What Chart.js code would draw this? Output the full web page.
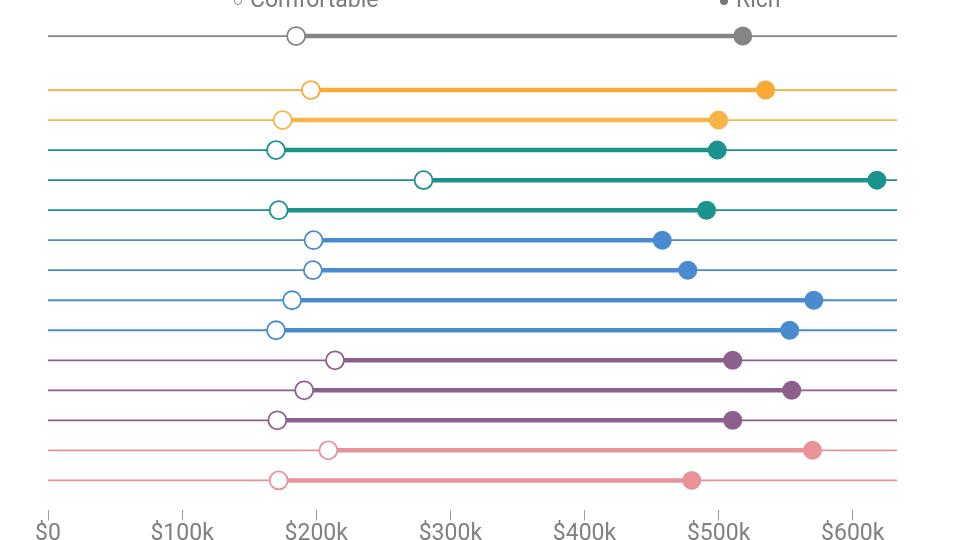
<!DOCTYPE html>
<html>
<head>
<meta charset="utf-8">
<script src="https://cdn.jsdelivr.net/npm/chart.js@4/dist/chart.umd.min.js"></script>
<style>
  html, body { margin: 0; padding: 0; background: #fff; overflow: hidden; width: 960px; height: 540px; }
  #wrap { position: absolute; left: 0; top: 0; width: 960px; height: 548px; }
  .leg { position: absolute; top: -10px; font-family: Roboto, "Noto Sans", sans-serif; font-size: 23px; line-height: 20px; color: #7a7a7a; white-space: nowrap; }
  .leg .dot { display: inline-block; width: 8px; height: 8px; border-radius: 50%; margin-right: 8px; vertical-align: middle; box-sizing: border-box; }
</style>
</head>
<body>
<div id="wrap"><canvas id="c"></canvas></div>
<div class="leg" style="left:234px"><span class="dot" style="border:1.5px solid #888;background:#fff"></span>Comfortable</div>
<div class="leg" style="left:720px"><span class="dot" style="background:#777"></span>Rich</div>
<script>
// ---- data ----
const categories = ['Overall', 'Group 1', 'Group 2', 'Group 3', 'Group 4', 'Group 5', 'Group 6', 'Group 7',
                    'Group 8', 'Group 9', 'Group 10', 'Group 11', 'Group 12', 'Group 13', 'Group 14'];
const comfortable = [185000, 196000, 175000, 170000, 280000, 172000, 198000, 197500, 182000, 170000, 214000, 191000, 171000, 209000, 172000];
const rich        = [518000, 535000, 500000, 499000, 618000, 491000, 458000, 477000, 571000, 553000, 510500, 554500, 510500, 570000, 480000];
const xTickValues = [0, 100000, 200000, 300000, 400000, 500000, 600000];

// ---- style ----
const rowColors = ['#858585', '#F9AA36', '#F8B444', '#1C928C', '#1C928C', '#1C928C', '#4A8BD0', '#4A8BD0',
                   '#4A8BD0', '#4A8BD0', '#8C5F8D', '#8C5F8D', '#8C5F8D', '#E8929A', '#E8929A'];
const AXIS_MAX = 633000;
const rowY = i => (i === 0 ? -1.8 : i - 1);

const datasets = [];
categories.forEach((cat, i) => {
  const y = rowY(i);
  const col = rowColors[i];
  datasets.push({
    label: cat + ' baseline', type: 'line', order: 3,
    data: [{x: 0, y}, {x: AXIS_MAX, y}],
    borderColor: col, borderWidth: 1.8, pointRadius: 0, showLine: true
  });
  datasets.push({
    label: cat + ' range', type: 'line', order: 2,
    data: [{x: comfortable[i], y}, {x: rich[i], y}],
    borderColor: col, borderWidth: 4.5, pointRadius: 0, showLine: true
  });
  datasets.push({
    label: cat + ' comfortable', type: 'scatter', order: 1,
    data: [{x: comfortable[i], y}],
    pointRadius: 9, pointBorderWidth: 1.8, pointBackgroundColor: '#fff', pointBorderColor: col
  });
  datasets.push({
    label: cat + ' rich', type: 'scatter', order: 0,
    data: [{x: rich[i], y}],
    pointRadius: 9.5, pointBorderWidth: 0, pointBackgroundColor: col, pointBorderColor: col
  });
});

new Chart(document.getElementById('c'), {
  type: 'scatter',
  data: { datasets },
  options: {
    responsive: true, maintainAspectRatio: false, animation: false,
    layout: { autoPadding: false, padding: { left: 48, right: 63, top: 0, bottom: 0 } },
    plugins: { legend: { display: false }, tooltip: { enabled: false } },
    elements: { line: { tension: 0 } },
    scales: {
      x: {
        type: 'linear', min: 0, max: AXIS_MAX,
        afterBuildTicks: scale => { scale.ticks = xTickValues.map(v => ({ value: v })); },
        border: { display: false },
        grid: { drawOnChartArea: false, drawTicks: true, tickLength: 10, color: '#9a9a9a', lineWidth: 1 },
        ticks: {
          padding: 0,
          color: '#808080', font: { family: 'Roboto, "Noto Sans", sans-serif', size: 23 },
          callback: v => v === 0 ? '$0' : '$' + (v / 1000) + 'k'
        }
      },
      y: { type: 'linear', min: -3, max: 14, reverse: true, display: false }
    }
  },
  plugins: []
});
</script>
</body>
</html>
